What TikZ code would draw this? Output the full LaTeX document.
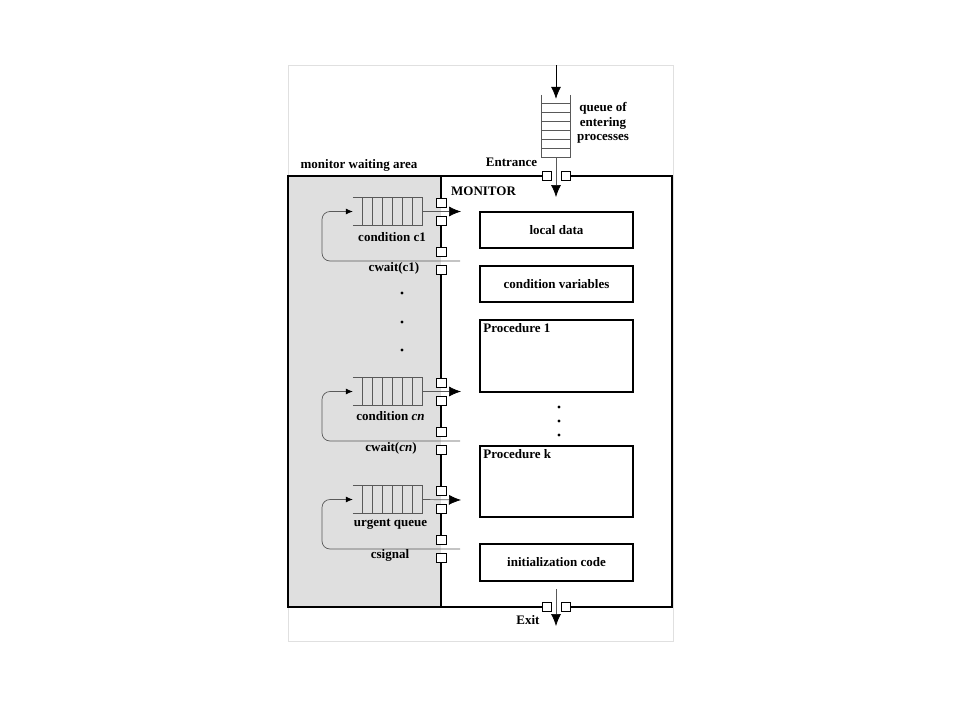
\documentclass[tikz,border=0pt]{standalone}
\usepackage{fontspec}
\setmainfont{Liberation Serif}
\usetikzlibrary{arrows.meta,calc,positioning}
\tikzset{>={Latex[width=10pt,length=12pt,color=black]}}
\tikzset{small/.style={-{Latex[width=6pt,length=7pt,color=black]}}}
\tikzset{every node/.style={font=\fontsize{13}{14.5}\selectfont\bfseries}}
\tikzset{part/.style={draw, line width=1.6pt, minimum width=153pt, inner sep=0pt}}
\tikzset{gate/.style={draw, fill=white, line width=0.6pt, minimum size=9.5pt, inner sep=0pt}}
\tikzset{qline/.style={draw=black!65, line width=0.7pt}}
\tikzset{wall/.style={line width=1.6pt}}

% horizontal queue: name, y of centre
\newcommand{\condqueue}[2]{%
  \node(#1) at (388,#2) [minimum width=70pt, minimum height=27pt, inner sep=0pt] {};
  \draw[qline] (#1.north west) -- (#1.north east) (#1.south west) -- (#1.south east);
  \foreach \i in {1,...,7} \draw[qline] ($(#1.north west)+(10*\i,0)$) -- ($(#1.south west)+(10*\i,0)$);
}

\begin{document}
\begin{tikzpicture}[x=1pt, y=-1pt]
    \useasboundingbox (0,0) rectangle (960,720);
    \draw[black!12] (288,65) rectangle (673,641);

    % waiting area and monitor walls, open at the gates
    \fill[gray!25] (288,176) rectangle (441,607);
    \draw[wall] (551.5,176) -- (288,176) -- (288,607) -- (551.5,607);
    \draw[wall] (561.5,176) -- (672,176) -- (672,607) -- (561.5,607);
    \foreach \a/\b in {176/207.5, 216.5/256.5, 265.5/387.5, 396.5/436.5, 445.5/495.5, 504.5/544.5, 553.5/607}
        \draw[wall] (441,\a) -- (441,\b);

    % entrance
    \coordinate(top) at (556,65);
    \node(entq) at (556,126.5) [minimum width=28pt, minimum height=63pt, inner sep=0pt] {};
    \draw[qline] (entq.north west) -- (entq.south west) (entq.north east) -- (entq.south east);
    \foreach \i in {1,...,7} \draw[qline] ($(entq.north west)+(0,9*\i)$) -- ($(entq.north east)+(0,9*\i)$);
    \draw[->, line width=0.7pt] (top) -- ($(entq.north)+(0,4)$);
    \coordinate(enter) at (556,197);
    \draw[->, qline] (entq.south) -- (enter);
    \node(ga)[gate] at (547,176) {};
    \node(gb)[gate] at (566,176) {};

    \node(lqueue) at (603,123) [align=center] {queue of\\entering\\processes};
    \node(lentr) at (511.5,162) {Entrance};
    \node(lwait) at (359,165) {monitor waiting area};
    \node(lmon) at (483.5,191) {MONITOR};

    % condition queues
    \coordinate(loopx) at (322,0);
    \condqueue{qc1}{211.5}
    \condqueue{qcn}{391.5}
    \condqueue{qur}{499.5}

    \coordinate(out1) at (461,211.5);
    \coordinate(outn) at (461,391.5);
    \coordinate(outu) at (461,500);
    \draw[->, qline] (qc1.east) -- (out1);
    \draw[->, qline] (qcn.east) -- (outn);
    \draw[->, qline] (qur.east) -- (outu);

    \coordinate(wait1) at (460,261);
    \coordinate(waitn) at (460,441);
    \coordinate(waitu) at (460,549);
    \draw[qline, small, rounded corners=8pt] (wait1) -| (loopx |- qc1.west) -- (qc1.west);
    \draw[qline, small, rounded corners=8pt] (waitn) -| (loopx |- qcn.west) -- (qcn.west);
    \draw[qline, small, rounded corners=8pt] (waitu) -| (loopx |- qur.west) -- (qur.west);

    \node[gate] at (441.5,203) {};
    \node[gate] at (441.5,221) {};
    \node[gate] at (441.5,252) {};
    \node[gate] at (441.5,270) {};
    \node[gate] at (441.5,383) {};
    \node[gate] at (441.5,401) {};
    \node[gate] at (441.5,432) {};
    \node[gate] at (441.5,450) {};
    \node[gate] at (441.5,491) {};
    \node[gate] at (441.5,509) {};
    \node[gate] at (441.5,540) {};
    \node[gate] at (441.5,558) {};

    \node(lc1) at (392,237) {condition c1};
    \node(lw1) at (394,268.5) {cwait(c1)};
    \node(lcn) at (390.5,416) {condition \textit{cn}};
    \node(lwn) at (391,448.5) {cwait(\textit{cn})};
    \node(lur) at (390.5,524) {urgent queue};
    \node(lsg) at (390,555) {csignal};

    \fill (402,293) circle (1.6pt);
    \fill (402,322) circle (1.6pt);
    \fill (402,350) circle (1.6pt);

    % monitor parts
    \node(data)[part, minimum height=36pt] at (556.5,230) {local data};
    \node(cvar)[part, minimum height=36pt] at (556.5,284) {condition variables};
    \node(proc1)[part, minimum height=72pt, label={[anchor=north west, inner sep=4pt]north west:Procedure 1}] at (556.5,356) {};
    \node(prock)[part, minimum height=71pt, label={[anchor=north west, inner sep=4pt]north west:Procedure k}] at (556.5,481.5) {};
    \node(init)[part, minimum height=37pt] at (556.5,562.5) {initialization code};

    \fill (559,407) circle (1.6pt);
    \fill (559,421) circle (1.6pt);
    \fill (559,435) circle (1.6pt);

    % exit
    \coordinate(exitfrom) at (556,589);
    \coordinate(exitto) at (556,626);
    \draw[->, qline] (exitfrom) -- (exitto);
    \node(gc)[gate] at (547,607) {};
    \node(gd)[gate] at (566,607) {};
    \node(lexit) at (528,620) {Exit};
\end{tikzpicture}
\end{document}
